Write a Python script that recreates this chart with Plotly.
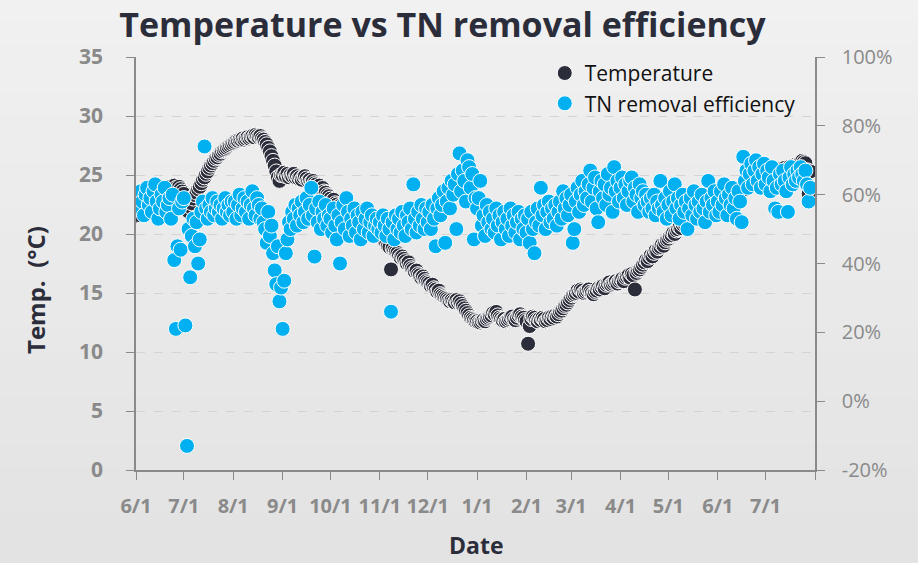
import pandas as pd
import plotly.graph_objects as go

# ---------------- data ----------------
start_date = "2014-06-01"

# daily water temperature (deg C), 2014-06-01 .. 2015-07-29
temperature = [
    # Jun 2014
    21.5,21.8,21.6,22.0,22.2,21.9,22.3,22.5,22.4,22.8,22.6,23.0,22.9,23.1,23.3,23.0,23.4,23.6,23.5,23.8,
    23.7,24.0,23.9,23.8,24.1,23.9,23.7,24.0,23.8,23.6,
    # Jul
    23.4,22.8,22.2,21.9,22.3,22.6,23.0,23.3,23.5,23.8,24.0,24.3,24.6,24.8,25.1,25.3,25.6,25.8,26.0,26.2,
    26.4,26.5,26.7,26.8,27.0,27.1,27.2,27.3,27.4,27.5,27.6,
    # Aug
    27.7,27.8,27.9,27.9,28.0,28.0,28.1,28.0,28.1,28.2,28.1,28.2,28.3,28.2,28.4,28.3,28.2,28.3,28.1,28.0,
    27.8,27.6,27.3,27.0,26.6,26.2,25.8,25.3,24.8,24.5,25.0,
    # Sep
    25.0,25.2,24.9,25.1,24.8,25.0,24.9,25.1,24.8,24.9,24.7,24.8,24.6,24.8,24.9,24.7,24.5,24.6,24.4,24.5,
    24.3,24.2,24.0,24.1,23.8,23.9,23.6,23.5,23.3,23.2,
    # Oct
    23.0,22.8,22.9,22.6,22.5,22.3,22.4,22.1,22.0,21.9,21.8,21.6,21.7,21.4,21.3,21.2,21.0,21.1,20.9,20.8,
    20.7,20.6,20.5,20.6,20.4,20.3,20.2,20.3,20.1,20.0,19.9,
    # Nov
    19.8,19.6,19.5,19.4,19.2,19.0,18.9,17.0,18.8,18.6,18.5,18.4,18.2,18.0,18.1,17.9,17.7,17.5,17.6,17.3,
    17.1,17.0,16.8,16.9,16.6,16.5,16.3,16.4,16.2,16.0,
    # Dec
    15.9,15.8,15.6,15.7,15.4,15.3,15.1,15.2,14.9,14.8,14.7,14.6,14.5,14.4,14.3,14.4,14.3,14.2,14.4,14.2,
    14.3,14.1,13.9,13.7,13.5,13.3,13.1,12.9,12.8,12.7,12.6,
    # Jan 2015
    12.6,12.5,12.5,12.6,12.7,12.6,12.8,12.9,13.0,13.1,13.3,13.2,13.4,13.1,12.9,12.8,12.7,12.8,12.6,12.7,
    12.8,12.9,13.0,12.8,12.7,12.9,13.1,13.2,13.0,12.9,12.7,
    # Feb
    12.6,10.7,12.2,12.8,13.0,12.9,12.7,12.6,12.8,12.7,12.9,12.8,12.6,12.7,12.9,12.8,13.0,12.9,13.1,13.0,
    13.2,13.4,13.5,13.7,13.9,14.0,14.2,14.4,
    # Mar
    14.6,14.8,14.9,15.0,15.2,15.1,15.3,15.2,15.0,15.1,15.2,15.3,15.1,15.0,14.9,15.1,15.2,15.4,15.3,15.5,
    15.6,15.4,15.7,15.8,15.9,15.7,15.8,15.9,16.0,15.8,16.0,
    # Apr
    16.1,16.2,16.0,16.3,16.4,16.5,16.3,16.6,16.5,15.3,16.7,16.9,17.0,17.2,17.4,17.6,17.8,17.7,18.0,18.2,
    18.1,18.4,18.6,18.5,18.8,18.9,19.1,19.0,19.3,19.5,
    # May
    19.6,19.8,19.9,20.1,20.0,20.3,20.4,20.6,20.5,20.8,20.9,21.1,21.0,21.3,21.5,21.4,21.7,21.8,21.6,21.9,
    22.1,22.0,22.2,22.4,22.3,22.5,22.6,22.4,22.7,22.8,22.6,
    # Jun
    22.9,23.0,22.8,23.1,23.2,23.0,23.3,23.4,23.2,23.5,23.6,23.4,23.7,23.8,23.6,23.9,24.0,23.8,24.1,24.2,
    24.0,24.3,24.4,24.2,24.5,24.6,24.4,24.7,24.8,24.6,
    # Jul
    24.9,25.0,24.8,25.1,25.0,25.2,25.3,25.1,25.4,25.2,25.5,25.3,25.6,25.4,25.5,25.7,25.6,25.8,25.7,25.9,
    25.8,26.0,26.1,26.2,26.1,26.0,25.4,23.4,25.3,
]

# daily TN removal efficiency (%), 2014-06-01 .. 2015-07-29
tn_removal = [
    # Jun 2014
    57,59,56,61,58,54,60,62,57,59,55,61,63,58,53,56,60,58,62,55,57,59,53,60,41,21,45,56,44,58,
    # Jul
    59,22,-13,50,36,48,53,45,52,40,47,55,58,74,56,53,57,55,59,54,56,58,55,57,53,56,59,55,57,54,58,
    # Aug
    55,58,53,57,60,54,56,59,55,58,53,57,61,56,54,59,57,53,56,52,50,46,55,48,51,43,38,34,45,29,33,
    # Sep
    21,35,43,47,52,50,55,53,57,51,56,54,58,52,55,59,53,57,62,54,42,56,52,58,50,55,53,57,51,54,
    # Oct
    53,49,56,51,47,54,40,52,57,50,59,55,48,53,51,56,49,54,52,47,55,50,53,56,49,52,54,48,51,53,50,
    # Nov
    52,49,54,51,48,53,50,26,52,47,54,50,53,49,55,51,48,54,52,56,50,63,53,49,55,51,57,53,50,56,
    # Dec
    52,55,50,57,53,45,56,59,54,57,61,46,58,62,56,64,60,63,50,66,72,61,67,64,58,70,68,62,66,47,59,
    # Jan 2015
    56,59,64,51,54,48,57,52,55,50,53,49,56,51,54,47,52,55,50,53,48,56,51,54,49,52,55,47,53,50,54,
    # Feb
    49,53,46,55,50,43,52,56,51,62,54,57,50,55,58,52,56,53,57,51,55,58,53,61,56,59,54,57,
    # Mar
    60,46,50,58,62,55,60,64,57,61,59,63,67,58,62,65,56,52,61,64,59,63,57,66,60,62,55,68,61,64,58,
    # Apr
    62,65,59,63,57,61,64,65,58,62,60,55,63,59,61,57,60,58,55,59,56,60,54,58,56,64,57,55,59,53,
    # May
    57,61,54,58,63,56,59,53,57,60,55,58,50,56,59,54,61,57,53,58,55,60,56,52,58,64,55,59,57,61,54,
    # Jun
    58,55,61,57,63,59,54,60,57,62,56,59,53,61,58,52,71,64,67,62,66,69,63,67,70,64,68,62,66,69,
    # Jul
    63,67,65,61,68,64,56,62,55,66,63,67,64,61,55,65,68,63,66,64,67,65,68,66,64,67,63,58,62,
]

# axis ticks
month_starts = ["2014-06-01", "2014-07-01", "2014-08-01", "2014-09-01", "2014-10-01",
                "2014-11-01", "2014-12-01", "2015-01-01", "2015-02-01", "2015-03-01",
                "2015-04-01", "2015-05-01", "2015-06-01", "2015-07-01", "2015-08-01"]
month_labels = ["6/1", "7/1", "8/1", "9/1", "10/1", "11/1", "12/1", "1/1",
                "2/1", "3/1", "4/1", "5/1", "6/1", "7/1", ""]
temp_ticks = [0, 5, 10, 15, 20, 25, 30, 35]
eff_ticks = [-20, 0, 20, 40, 60, 80, 100]
eff_labels = ["-20%", "0%", "20%", "40%", "60%", "80%", "100%"]

temp_dates = pd.date_range(start_date, periods=len(temperature), freq="D")
tn_dates = pd.date_range(start_date, periods=len(tn_removal), freq="D")

# ---------------- figure ----------------
DARK = "#2b2d3a"
BLUE = "#00b0f0"
GREY = "#8a8a8a"
FONT = "Open Sans, sans-serif"

W, H = 918, 563
L, R, T, B = 136, 103, 57, 93

fig = go.Figure()
fig.add_trace(go.Scatter(
    x=temp_dates, y=temperature, mode="markers", name="Temperature",
    marker=dict(size=15, color=DARK, line=dict(color="white", width=1)),
    yaxis="y",
))
fig.add_trace(go.Scatter(
    x=tn_dates, y=tn_removal, mode="markers", name="TN removal efficiency",
    marker=dict(size=15, color=BLUE, line=dict(color="white", width=1)),
    yaxis="y2",
))

# soft vertical background gradient
ph = H - T - B
y_top = 1 + T / ph
y_bot = -B / ph
n_bands = 24
shapes = []
for i in range(n_bands):
    c = int(0xf1 - (0xf1 - 0xe3) * i / (n_bands - 1))
    shapes.append(dict(type="rect", xref="paper", yref="paper",
                       x0=-0.3, x1=1.3,
                       y0=y_top - (i + 1) * (y_top - y_bot) / n_bands - 0.005,
                       y1=y_top - i * (y_top - y_bot) / n_bands + 0.005,
                       fillcolor=f"rgb({c},{c},{c})", line=dict(width=0), layer="below"))

pw = W - L - R
annotations = [
    dict(text="<b>Temp.  (°C)</b>", textangle=-90, xref="paper", yref="paper",
         x=(35 - L) / pw, y=(H - B - 290) / ph, xanchor="center", yanchor="middle",
         showarrow=False, font=dict(family=FONT, size=24, color=DARK)),
    dict(text="<b>Date</b>", xref="paper", yref="paper",
         x=(476 - L) / pw, y=(H - B - 545) / ph, xanchor="center", yanchor="middle",
         showarrow=False, font=dict(family=FONT, size=23, color=DARK)),
]

fig.update_layout(
    width=W, height=H,
    margin=dict(l=L, r=R, t=T, b=B),
    paper_bgcolor="#ebebeb",
    plot_bgcolor="rgba(0,0,0,0)",
    shapes=shapes,
    annotations=annotations,
    title=dict(text="<b>Temperature vs TN removal efficiency</b>",
               x=0.482, xanchor="center", y=0.955, yanchor="middle",
               font=dict(family=FONT, size=34, color=DARK)),
    showlegend=True,
    legend=dict(x=0.602, xanchor="left", y=1.01, yanchor="top",
                bgcolor="rgba(0,0,0,0)", tracegroupgap=0,
                font=dict(family=FONT, size=21, color="#111111")),
    xaxis=dict(
        type="date", range=["2014-06-01", "2015-08-01"],
        tickmode="array", tickvals=month_starts, ticktext=month_labels, tickangle=0,
        tickfont=dict(family=FONT, size=20, color=GREY, weight="bold"),
        ticks="outside", ticklen=8, tickcolor=GREY, tickwidth=1, ticklabelstandoff=9,
        showline=True, linecolor=GREY, linewidth=1.5, showgrid=False, zeroline=False,
    ),
    yaxis=dict(
        range=[0, 35], tickmode="array", tickvals=temp_ticks,
        tickfont=dict(family=FONT, size=21, color=GREY, weight="bold"),
        ticks="outside", ticklen=8, tickcolor=GREY, ticklabelstandoff=19,
        showline=True, linecolor=GREY, linewidth=1.5,
        showgrid=True, gridcolor="#d4d4d4", griddash="dash", gridwidth=1, zeroline=False,
    ),
    yaxis2=dict(
        range=[-20, 100], overlaying="y", side="right",
        tickmode="array", tickvals=eff_ticks, ticktext=eff_labels,
        tickfont=dict(family=FONT, size=20, color=GREY),
        ticks="outside", ticklen=8, tickcolor=GREY, ticklabelstandoff=13,
        showline=True, linecolor=GREY, linewidth=1.5, showgrid=False, zeroline=False,
    ),
)

fig.write_html("out.html",
               config={"displayModeBar": False},
               post_script="document.body.style.margin='0';document.body.style.overflow='hidden';")
